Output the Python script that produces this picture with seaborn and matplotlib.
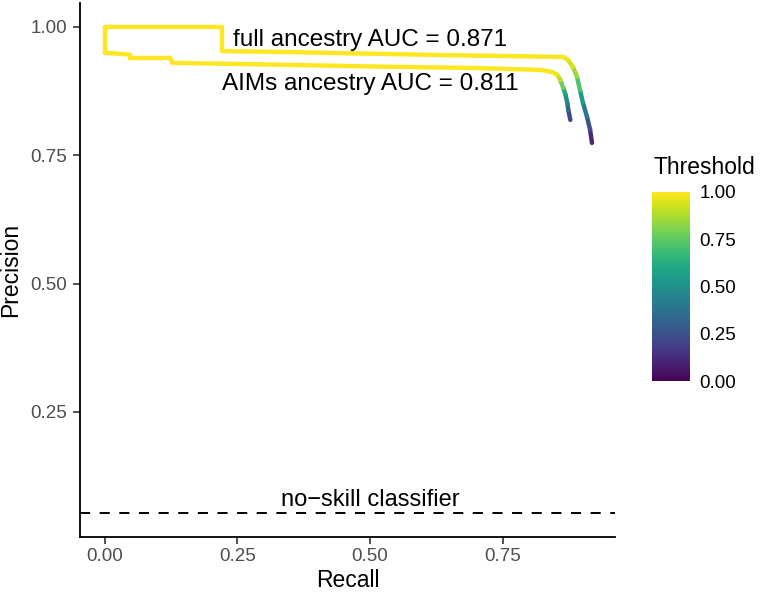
import numpy as np
import pandas as pd
import matplotlib
matplotlib.use("Agg")
import matplotlib.pyplot as plt
import seaborn as sns
from matplotlib.colors import Normalize
from matplotlib.cm import ScalarMappable

# ---- data ----
full_recall = [0.0, 0.221, 0.221, 0.35, 0.50, 0.65, 0.78, 0.8645, 0.8733, 0.8827,
               0.8903, 0.896, 0.9016, 0.9092, 0.915, 0.9186]
full_precision = [1.0, 1.0, 0.953, 0.951, 0.948, 0.945, 0.943, 0.9415, 0.9357, 0.922,
                  0.903, 0.877, 0.852, 0.825, 0.800, 0.774]
full_threshold = [1.0, 1.0, 1.0, 1.0, 1.0, 0.995, 0.99, 0.97, 0.93, 0.85,
                  0.72, 0.55, 0.40, 0.25, 0.12, 0.02]

aims_recall = [0.0, 0.0, 0.048, 0.048, 0.123, 0.128, 0.30, 0.50, 0.70, 0.8211,
               0.8438, 0.8532, 0.8589, 0.8645, 0.8683, 0.8721, 0.8740, 0.8778]
aims_precision = [1.0, 0.950, 0.946, 0.940, 0.940, 0.930, 0.927, 0.923, 0.920, 0.9163,
                  0.9123, 0.9064, 0.8967, 0.8811, 0.8694, 0.8519, 0.8383, 0.8188]
aims_threshold = [1.0, 1.0, 1.0, 1.0, 1.0, 1.0, 1.0, 1.0, 0.995, 0.99,
                  0.97, 0.90, 0.78, 0.60, 0.48, 0.35, 0.22, 0.05]

no_skill = 0.053
label_full = "full ancestry AUC = 0.871"
label_aims = "AIMs ancestry AUC = 0.811"
label_noskill = "no\u2212skill classifier"
x_ticks = [0.0, 0.25, 0.50, 0.75]
y_ticks = [0.25, 0.50, 0.75, 1.00]
cbar_ticks = [0.0, 0.25, 0.50, 0.75, 1.0]

# ---- build per-segment table (segment coloured by its start value) ----
rows = []
for name, r, p, t in [("full", full_recall, full_precision, full_threshold),
                      ("aims", aims_recall, aims_precision, aims_threshold)]:
    for i in range(len(r) - 1):
        u = f"{name}_{i}"
        rows.append(dict(unit=u, recall=r[i], precision=p[i], thr=t[i]))
        rows.append(dict(unit=u, recall=r[i + 1], precision=p[i + 1], thr=t[i]))
df = pd.DataFrame(rows)

sns.set_theme(style="ticks")
plt.rcParams['font.family'] = ['Liberation Sans', 'DejaVu Sans']

W, H = 760, 593
fig = plt.figure(figsize=(W / 100, H / 100), dpi=100)
ax = fig.add_axes([80.4 / W, (H - 537.0) / H, 534.6 / W, 534.0 / H])

sns.lineplot(data=df, x="recall", y="precision", hue="thr", units="unit",
             estimator=None, sort=False, palette="viridis", hue_norm=(0, 1),
             legend=False, lw=3.2, solid_capstyle="round", ax=ax)

ax.axhline(no_skill, color="black", lw=1.4, ls=(0, (5.2, 4.9)))

ax.text(0.5, 0.9631, label_full, ha="center", va="baseline", fontsize=17.5, color="black")
ax.text(0.5, 0.878, label_aims, ha="center", va="baseline", fontsize=17.5, color="black")
ax.text(0.5, 0.066, label_noskill, ha="center", va="baseline", fontsize=17, color="black")

ax.set_xlim(-0.046, 0.962)
ax.set_ylim(0.006, 1.0467)
ax.set_xticks(x_ticks)
ax.set_xticklabels([f"{v:.2f}" for v in x_ticks])
ax.set_yticks(y_ticks)
ax.set_yticklabels([f"{v:.2f}" for v in y_ticks])
ax.tick_params(axis="both", length=5, width=1.2, color="#333333",
               labelcolor="#4D4D4D", labelsize=13.5)
ax.tick_params(axis="x", pad=3)
ax.tick_params(axis="y", pad=4.5)
ax.set_xlabel("Recall", fontsize=16.5, color="black", labelpad=3)
ax.set_ylabel("Precision", fontsize=16.5, color="black", labelpad=6)
for s in ["left", "bottom"]:
    ax.spines[s].set_linewidth(1.3)
    ax.spines[s].set_color("black")
sns.despine(ax=ax)

# ---- colourbar legend ----
cax = fig.add_axes([652 / W, (H - 381) / H, 38 / W, 189 / H])
sm = ScalarMappable(norm=Normalize(0, 1), cmap="viridis")
cb = fig.colorbar(sm, cax=cax, ticks=cbar_ticks)
cb.outline.set_visible(False)
cax.set_yticklabels([f"{v:.2f}" for v in cbar_ticks])
cax.tick_params(direction="in", length=7, width=1, color="white",
                left=True, right=True, labelleft=False, labelright=True,
                labelsize=13.5, labelcolor="black", pad=7)
fig.text(653 / W, 1 - 168 / H, "Threshold", ha="left", va="center",
         fontsize=16.5, color="black")

fig.savefig("out.png", dpi=100)
